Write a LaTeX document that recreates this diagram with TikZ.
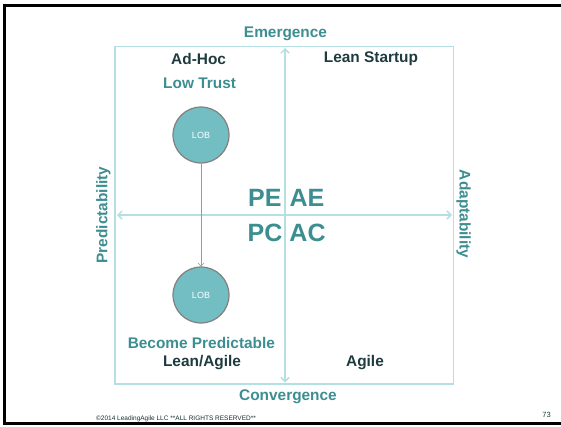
\documentclass[tikz,border=0pt]{standalone}
\usepackage{fontspec}
\setmainfont{Liberation Sans}
\usetikzlibrary{arrows.meta}
\definecolor{tealtxt}{HTML}{3C8E91}
\definecolor{darktxt}{HTML}{1E3B3F}
\definecolor{boxline}{HTML}{B5E0E3}
\definecolor{lobfill}{HTML}{72BEC3}
\tikzset{
  teallbl/.style={text=tealtxt,font=\bfseries\fontsize{15.4}{17}\selectfont,inner sep=0pt},
  darklbl/.style={text=darktxt,font=\bfseries\fontsize{15.4}{17}\selectfont,inner sep=0pt},
  biglbl/.style={text=tealtxt,font=\bfseries\fontsize{25}{27}\selectfont,inner sep=0pt},
  lob/.style={circle,fill=lobfill,draw=gray,line width=1.2pt,minimum size=56pt,inner sep=0pt,text=white,font=\fontsize{9}{10}\selectfont},
  axis/.style={draw=boxline,line width=1.5pt,{Straight Barb[length=4pt,width=8pt]}-{Straight Barb[length=4pt,width=8pt]}}
}
\begin{document}
\begin{tikzpicture}[x=1pt,y=-1pt]
\useasboundingbox (0,0) rectangle (561,426);
\fill[white] (0,0) rectangle (561,426);
% slide frame
\draw[black,line width=2.8pt] (561,5.3) -- (4.3,5.3) -- (4.3,423.7) -- (561,423.7);
% quadrant box
\draw[boxline,line width=1.5pt] (115.2,46.7) rectangle (453.7,384);
\coordinate (vt) at (285,48);
\coordinate (vb) at (285,382.5);
\coordinate (hl) at (117,215);
\coordinate (hr) at (452,215);
\draw[axis] (vt) -- (vb);
\draw[axis] (hl) -- (hr);
% labels
\node[teallbl] (em) at (285.5,34) {Emergence};
\node[teallbl] (cv) at (288,396.5) {Convergence};
\node[teallbl,rotate=90] (pr) at (103.5,215) {Predictability};
\node[teallbl,rotate=-90] (ad) at (463.5,214) {Adaptability};
\node[darklbl] (adhoc) at (198.6,59) {Ad-Hoc};
\node[darklbl] (ls) at (371,59) {Lean Startup};
\node[teallbl] (lt) at (199.6,83) {Low Trust};
\node[teallbl] (bp) at (201.4,343) {Become Predictable};
\node[darklbl] (la) at (202,363) {Lean/Agile};
\node[darklbl] (ag) at (365,363) {Agile};
\node[biglbl] (pe) at (264.8,198) {PE};
\node[biglbl] (ae) at (307,198) {AE};
\node[biglbl] (pc) at (265,233) {PC};
\node[biglbl] (ac) at (307.5,233) {AC};
% LOB circles
\node[lob] (lob1) at (201,135) {LOB};
\node[lob] (lob2) at (201,295) {LOB};
\draw[gray!80,line width=0.6pt,-{Straight Barb[length=3pt,width=6pt]}] (lob1) -- (lob2);
% footer
\node[text=darktxt!80!black,font=\fontsize{6.5}{7}\selectfont,inner sep=0pt,anchor=base west] (copy) at (96,420) {©2014 LeadingAgile LLC **ALL RIGHTS RESERVED**};
\node[text=darktxt,font=\fontsize{7.5}{8}\selectfont,inner sep=0pt] (pg) at (546.5,415) {73};
\end{tikzpicture}
\end{document}
